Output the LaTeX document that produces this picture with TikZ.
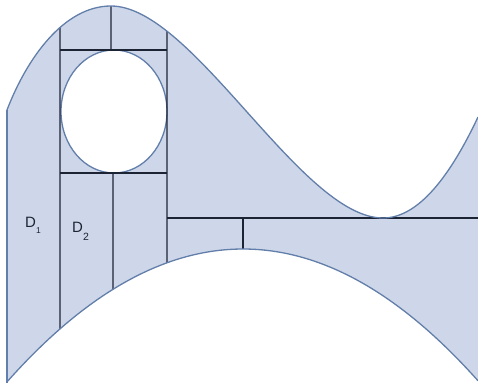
\documentclass[tikz,border=0pt]{standalone}
\usepackage{fontspec}
\setmainfont{Liberation Sans}
\usetikzlibrary{intersections}
\definecolor{fillblue}{RGB}{206,215,233}
\definecolor{edgeblue}{RGB}{98,126,170}
\definecolor{ink}{RGB}{28,36,52}
\begin{document}
\begin{tikzpicture}[x=1pt,y=-1pt,
  outline/.style={draw=edgeblue, line width=1.3pt},
  divider/.style={draw=ink, line width=1.2pt},
  lbl/.style={font=\fontsize{15}{17}\selectfont, inner sep=0pt, text=ink, anchor=base west}]
\useasboundingbox (0,0) rectangle (478,383);
\def\topcurve{(7,110) .. controls (27,58) and (64,6) .. (111,6) .. controls (193,6) and (301,218) .. (383,218) .. controls (414.7,218) and (446.3,184.3) .. (478,117)}
\def\botcurve{plot[domain=7:478,samples=90] (\x,{249+134*((\x-243)/237)^2})}
\begin{scope}
\clip (0,0) rectangle (478,383);
\fill[fillblue] \topcurve -- (478,381) -- plot[domain=478:7,samples=90] (\x,{249+134*((\x-243)/237)^2}) -- cycle;
\path[name path=top] \topcurve;
\path[name path=bot] \botcurve;
\path[name path=v60] (60,0) -- (60,383);
\path[name path=v111] (111,0) -- (111,383);
\path[name path=v113] (113,0) -- (113,383);
\path[name path=v167] (167,0) -- (167,383);
\path[name path=v243] (243,0) -- (243,383);
\path[name intersections={of=top and v60, by=t60}];
\path[name intersections={of=top and v111, by=t111}];
\path[name intersections={of=top and v167, by=t167}];
\path[name intersections={of=bot and v60, by=b60}];
\path[name intersections={of=bot and v113, by=b113}];
\path[name intersections={of=bot and v167, by=b167}];
\path[name intersections={of=bot and v243, by=b243}];
\coordinate (h50l) at (60,50);
\coordinate (h50r) at (167,50);
\coordinate (m50) at (111,50);
\coordinate (h173l) at (60,173);
\coordinate (h173r) at (167,173);
\coordinate (m173) at (113,173);
\coordinate (h218l) at (167,218);
\coordinate (h218r) at (478,218);
\coordinate (m218) at (243,218);
\draw[outline, fill=white] (114,111.5) ellipse [x radius=53, y radius=61.5];
\draw[divider] (t60) -- (b60);
\draw[divider] (t167) -- (b167);
\draw[divider] (t111) -- (m50);
\draw[divider] (h50l) -- (h50r);
\draw[divider] (h173l) -- (h173r);
\draw[divider] (m173) -- (b113);
\draw[divider] (h218l) -- (h218r);
\draw[divider] (m218) -- (b243);
\draw[outline] \topcurve;
\draw[outline] \botcurve;
\draw[outline] (7,110) -- (7,383);
\end{scope}
\node[lbl] (d1) at (25,227) {D\raisebox{-6pt}{\fontsize{8.5}{9}\selectfont 1}};
\node[lbl] (d2) at (72,232) {D\raisebox{-8pt}{\fontsize{10.5}{10}\selectfont 2}};
\end{tikzpicture}
\end{document}
